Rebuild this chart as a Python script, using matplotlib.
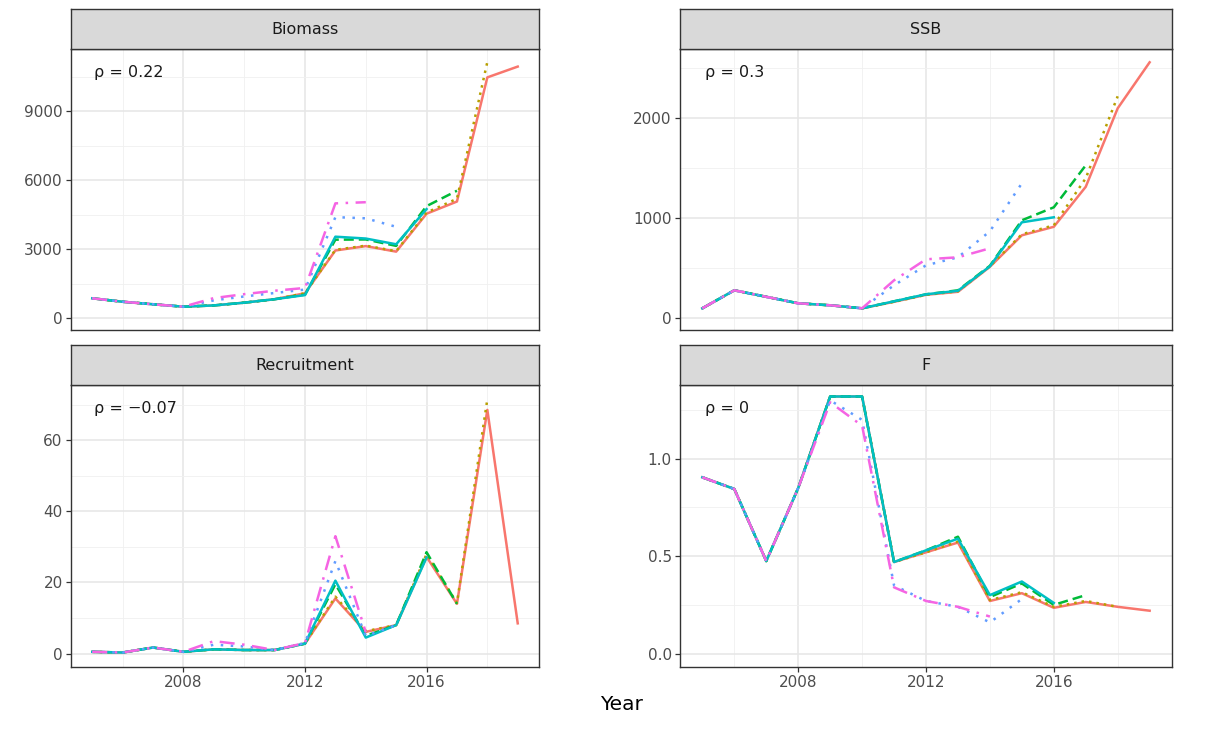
import matplotlib
matplotlib.use("Agg")
import matplotlib.pyplot as plt
from matplotlib.ticker import FixedLocator

plt.rcParams['font.family'] = ['DejaVu Sans']

years = [2005, 2006, 2007, 2008, 2009, 2010, 2011, 2012, 2013, 2014, 2015, 2016, 2017, 2018, 2019]

peel_colors = ['#F8766D', '#B79F00', '#00BA38', '#00BFC4', '#619CFF', '#F564E3']
peel_styles = ['-', (0, (1, 2)), (0, (4, 2)), '-', (0, (1, 3)), (0, (6, 3, 1, 3))]

# Biomass
biomass_p0 = [870, 720, 610, 505, 560, 680, 830, 1090, 2950, 3140, 2900, 4550, 5080, 10480, 10950]
biomass_p1 = [870, 720, 610, 505, 560, 680, 830, 1090, 2980, 3160, 2920, 4600, 5200, 11150]
biomass_p2 = [870, 720, 610, 505, 560, 680, 830, 1030, 3420, 3430, 3150, 4880, 5550]
biomass_p3 = [870, 720, 610, 505, 560, 680, 830, 1010, 3550, 3470, 3220, 4750]
biomass_p4 = [870, 720, 610, 505, 780, 950, 1100, 1250, 4400, 4350, 3980]
biomass_p5 = [870, 720, 610, 505, 880, 1050, 1200, 1320, 5000, 5050]

# SSB
ssb_p0 = [100, 280, 215, 150, 130, 100, 165, 235, 265, 515, 830, 915, 1315, 2100, 2560]
ssb_p1 = [100, 280, 215, 150, 130, 100, 165, 235, 270, 520, 840, 930, 1400, 2220]
ssb_p2 = [100, 280, 215, 150, 130, 100, 170, 240, 280, 525, 980, 1110, 1530]
ssb_p3 = [100, 280, 215, 150, 130, 100, 170, 240, 275, 520, 960, 1010]
ssb_p4 = [100, 280, 215, 150, 130, 100, 330, 530, 610, 870, 1350]
ssb_p5 = [100, 280, 215, 150, 130, 100, 380, 590, 610, 700]

# Recruitment
rec_p0 = [0.5, 0.3, 1.7, 0.5, 1.2, 1.0, 1.0, 2.8, 15.5, 6.1, 8.0, 27.2, 14.0, 68.5, 8.5]
rec_p1 = [0.5, 0.3, 1.7, 0.5, 1.2, 1.0, 1.0, 2.8, 16.0, 6.3, 8.0, 28.0, 14.2, 71.5]
rec_p2 = [0.5, 0.3, 1.7, 0.5, 1.2, 1.0, 1.0, 2.8, 19.5, 5.0, 8.0, 28.5, 14.0]
rec_p3 = [0.5, 0.3, 1.7, 0.5, 1.2, 1.0, 1.0, 2.8, 20.5, 4.5, 8.0, 27.0]
rec_p4 = [0.5, 0.3, 1.7, 0.5, 2.5, 2.0, 1.0, 3.0, 26.0, 5.0, 8.0]
rec_p5 = [0.5, 0.3, 1.7, 0.5, 3.5, 2.5, 1.0, 3.0, 33.0, 6.0]

# F
f_p0 = [0.905, 0.845, 0.475, 0.85, 1.32, 1.32, 0.47, 0.52, 0.57, 0.27, 0.31, 0.235, 0.265, 0.24, 0.22]
f_p1 = [0.905, 0.845, 0.475, 0.85, 1.32, 1.32, 0.47, 0.52, 0.575, 0.275, 0.315, 0.24, 0.27, 0.24]
f_p2 = [0.905, 0.845, 0.475, 0.85, 1.32, 1.32, 0.47, 0.53, 0.60, 0.29, 0.36, 0.25, 0.30]
f_p3 = [0.905, 0.845, 0.475, 0.85, 1.32, 1.32, 0.47, 0.53, 0.59, 0.30, 0.37, 0.26]
f_p4 = [0.905, 0.845, 0.475, 0.85, 1.30, 1.20, 0.35, 0.27, 0.24, 0.16, 0.28]
f_p5 = [0.905, 0.845, 0.475, 0.85, 1.29, 1.17, 0.34, 0.27, 0.24, 0.19]

panel_titles = ['Biomass', 'SSB', 'Recruitment', 'F']
rho_labels = ['ρ = 0.22', 'ρ = 0.3', 'ρ = −0.07', 'ρ = 0']
x_ticks = [2008, 2012, 2016]
x_minor = [2006, 2010, 2014, 2018]
y_ticks = [[0, 3000, 6000, 9000], [0, 1000, 2000], [0, 20, 40, 60], [0, 0.5, 1.0]]
y_ticklabels = [['0', '3000', '6000', '9000'], ['0', '1000', '2000'], ['0', '20', '40', '60'], ['0.0', '0.5', '1.0']]
y_minor = [[1500, 4500, 7500, 10500], [500, 1500, 2500], [10, 30, 50, 70], [0.25, 0.75, 1.25]]
y_limits = [(-509, 11715), (-117, 2693), (-3.77, 75.5), (-0.069, 1.379)]

series = [
    [biomass_p0, biomass_p1, biomass_p2, biomass_p3, biomass_p4, biomass_p5],
    [ssb_p0, ssb_p1, ssb_p2, ssb_p3, ssb_p4, ssb_p5],
    [rec_p0, rec_p1, rec_p2, rec_p3, rec_p4, rec_p5],
    [f_p0, f_p1, f_p2, f_p3, f_p4, f_p5],
]

W, H = 1219, 731
fig = plt.figure(figsize=(W / 100, H / 100), dpi=100)

# panel boxes in pixels: (left, right, top, bottom)
boxes = [(71, 539, 49, 330), (680, 1172, 49, 330), (71, 539, 385, 667), (680, 1172, 385, 667)]
strip_h = 40

for i, (l, r, t, b) in enumerate(boxes):
    ax = fig.add_axes([l / W, 1 - b / H, (r - l) / W, (b - t) / H])
    ax.set_facecolor('white')
    for k in range(6):
        vals = series[i][k]
        ax.plot(years[:len(vals)], vals, color=peel_colors[k], linestyle=peel_styles[k],
                linewidth=1.8, zorder=3 + k)
    ax.set_xlim(2004.3, 2019.7)
    ax.set_ylim(*y_limits[i])
    ax.set_xticks(x_ticks)
    ax.xaxis.set_minor_locator(FixedLocator(x_minor))
    ax.set_yticks(y_ticks[i])
    ax.set_yticklabels(y_ticklabels[i])
    ax.yaxis.set_minor_locator(FixedLocator(y_minor[i]))
    ax.grid(which='major', color='#E6E6E6', linewidth=1.1, zorder=0)
    ax.grid(which='minor', color='#F0F0F0', linewidth=0.6, zorder=0)
    ax.set_axisbelow(True)
    ax.tick_params(which='major', direction='out', length=3.5, width=0.9, color='#333333',
                   labelsize=11, labelcolor='#4D4D4D', pad=2.5)
    ax.tick_params(which='minor', length=0)
    if i < 2:
        ax.tick_params(axis='x', which='both', length=0, labelbottom=False)
    for sp in ax.spines.values():
        sp.set_color('#333333')
        sp.set_linewidth(1.0)
    ax.text(0.05, 0.915, rho_labels[i], transform=ax.transAxes, ha='left', va='center',
            fontsize=11.5, color='#1A1A1A')

    sax = fig.add_axes([l / W, 1 - t / H, (r - l) / W, strip_h / H])
    sax.set_facecolor('#D9D9D9')
    sax.set_xticks([])
    sax.set_yticks([])
    for sp in sax.spines.values():
        sp.set_color('#333333')
        sp.set_linewidth(1.0)
    sax.text(0.5, 0.5, panel_titles[i], transform=sax.transAxes, ha='center', va='center',
             fontsize=11.5, color='#1A1A1A')

fig.text(621 / W, 1 - 705 / H, 'Year', ha='center', va='center', fontsize=14.5, color='#000000')

fig.savefig('out.png', dpi=100)
